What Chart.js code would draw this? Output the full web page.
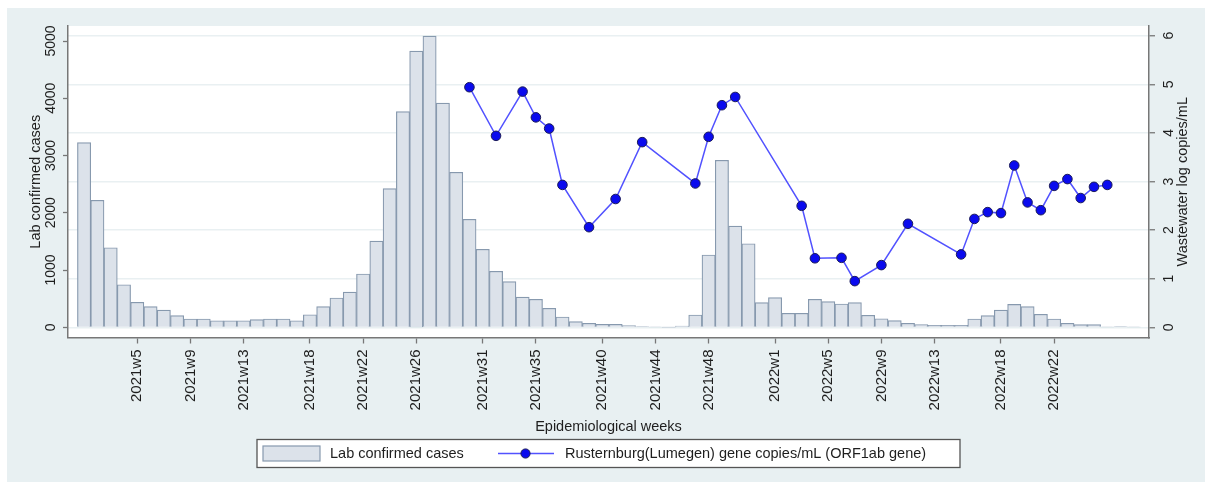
<!DOCTYPE html>
<html>
<head>
<meta charset="utf-8">
<script src="https://cdn.jsdelivr.net/npm/chart.js@4.4.1/dist/chart.umd.min.js"></script>
<style>
  html, body { margin: 0; padding: 0; background: #fff; }
  #wrap { position: relative; width: 1205px; height: 482px; }
</style>
</head>
<body>
<div id="wrap"><canvas id="myChart" width="1205" height="482"></canvas></div>
<script>
// semanas epidemiologicas (una barra por semana)
const weeks = [
  '2021w1','2021w2','2021w3','2021w4','2021w5','2021w6','2021w7','2021w8','2021w9','2021w10',
  '2021w11','2021w12','2021w13','2021w14','2021w15','2021w16','2021w17','2021w18','2021w19','2021w20',
  '2021w21','2021w22','2021w23','2021w24','2021w25','2021w26','2021w27','2021w28','2021w29','2021w30',
  '2021w31','2021w32','2021w33','2021w34','2021w35','2021w36','2021w37','2021w38','2021w39','2021w40',
  '2021w41','2021w42','2021w43','2021w44','2021w45','2021w46','2021w47','2021w48','2021w49','2021w50',
  '2021w51','2021w52','2022w1','2022w2','2022w3','2022w4','2022w5','2022w6','2022w7','2022w8',
  '2022w9','2022w10','2022w11','2022w12','2022w13','2022w14','2022w15','2022w16','2022w17','2022w18',
  '2022w19','2022w20','2022w21','2022w22','2022w23','2022w24','2022w25','2022w26','2022w27','2022w28'
];

const cases = [
  3224, 2218, 1390, 744, 437, 360, 302, 203, 145, 145,
  115, 115, 115, 133, 145, 145, 115, 220, 360, 512,
  616, 931, 1507, 2421, 3766, 4825, 5087, 3917, 2707, 1886,
  1362, 978, 797, 529, 489, 332, 180, 98, 70, 52,
  52, 30, 12, 5, 3, 23, 215, 1263, 2916, 1769,
  1460, 430, 517, 244, 244, 489, 448, 407, 430, 209,
  150, 116, 70, 48, 34, 34, 34, 145, 203, 302,
  401, 360, 227, 145, 70, 47, 47, 8, 12, 5
];

// muestras de agua residual
const wwWeeks = [
  '2021w30','2021w32','2021w34','2021w35','2021w36','2021w37','2021w39','2021w41','2021w43','2021w47',
  '2021w48','2021w49','2021w50','2022w3','2022w4','2022w6','2022w7','2022w9','2022w11','2022w15',
  '2022w16','2022w17','2022w18','2022w19','2022w20','2022w21','2022w22','2022w23','2022w24','2022w25',
  '2022w26'
];
const wwValues = [
  4.94, 3.94, 4.85, 4.32, 4.09, 2.93, 2.06, 2.64, 3.81, 2.96,
  3.92, 4.57, 4.74, 2.50, 1.42, 1.43, 0.95, 1.28, 2.13, 1.50,
  2.23, 2.37, 2.35, 3.33, 2.57, 2.41, 2.91, 3.05, 2.66, 2.89,
  2.93
];

const tickLabels = ['2021w5','2021w9','2021w13','2021w18','2021w22','2021w26','2021w31','2021w35','2021w40',
  '2021w44','2021w48','2022w1','2022w5','2022w9','2022w13','2022w18','2022w22'];
const casesTicks = [0, 1000, 2000, 3000, 4000, 5000];
const wwTicks = [0, 1, 2, 3, 4, 5, 6];

const FONT = "'Liberation Sans', Arial, sans-serif";
const TXT = '#1e1e1e';
const AXIS = '#777';

const fondo = {
  id: 'fondo',
  beforeDraw(chart) {
    const ctx = chart.ctx, a = chart.chartArea;
    ctx.save();
    ctx.fillStyle = '#fff';
    ctx.fillRect(0, 0, chart.width, chart.height);
    ctx.fillStyle = '#e8f0f2';
    ctx.fillRect(7, 8, chart.width - 7, chart.height - 8);
    ctx.fillStyle = '#fff';
    ctx.fillRect(a.left, a.top, a.right - a.left, a.bottom - a.top);
    ctx.restore();
  },
  afterDraw(chart) {
    const ctx = chart.ctx, a = chart.chartArea;
    const midY = (a.top + a.bottom) / 2, midX = (a.left + a.right) / 2;
    ctx.save();
    ctx.fillStyle = TXT;
    ctx.font = '14.5px ' + FONT;
    ctx.textAlign = 'center';
    ctx.textBaseline = 'middle';
    // titulos de ejes
    ctx.save(); ctx.translate(36, midY); ctx.rotate(-Math.PI / 2);
    ctx.fillText('Lab confirmed cases', 0, 0); ctx.restore();
    ctx.save(); ctx.translate(1183, midY); ctx.rotate(-Math.PI / 2);
    ctx.fillText('Wastewater log copies/mL', 0, 0); ctx.restore();
    ctx.fillText('Epidemiological weeks', midX, 427);

    // leyenda
    const ds = chart.data.datasets;
    const w = 703, h = 28, x0 = midX - w / 2, y0 = 439.5, cy = y0 + h / 2;
    ctx.fillStyle = '#fff';
    ctx.fillRect(x0, y0, w, h);
    ctx.strokeStyle = '#555';
    ctx.lineWidth = 1.3;
    ctx.strokeRect(x0, y0, w, h);
    ctx.fillStyle = ds[0].backgroundColor;
    ctx.fillRect(x0 + 6, cy - 7.5, 57, 15);
    ctx.strokeStyle = ds[0].borderColor;
    ctx.lineWidth = 1.2;
    ctx.strokeRect(x0 + 6, cy - 7.5, 57, 15);
    ctx.fillStyle = TXT;
    ctx.textAlign = 'left';
    ctx.fillText(ds[0].label, x0 + 73, cy);
    ctx.strokeStyle = ds[1].borderColor;
    ctx.lineWidth = 1.5;
    ctx.beginPath(); ctx.moveTo(x0 + 241, cy); ctx.lineTo(x0 + 297, cy); ctx.stroke();
    ctx.beginPath(); ctx.arc(x0 + 268.5, cy, 4.6, 0, Math.PI * 2);
    ctx.fillStyle = ds[1].pointBackgroundColor; ctx.fill();
    ctx.strokeStyle = ds[1].pointBorderColor; ctx.lineWidth = 1; ctx.stroke();
    ctx.fillStyle = TXT;
    ctx.fillText(ds[1].label, x0 + 308, cy);
    ctx.restore();
  }
};

const ctx = document.getElementById('myChart').getContext('2d');
const myChart = new Chart(ctx, {
  type: 'bar',
  data: {
    datasets: [
      {
        type: 'bar',
        label: 'Lab confirmed cases',
        data: cases.map((v, i) => ({ x: i, y: v })),
        backgroundColor: '#dce2ea',
        borderColor: '#8799ae',
        borderWidth: 1.2,
        barPercentage: 1,
        categoryPercentage: 1,
        yAxisID: 'y',
        order: 1
      },
      {
        type: 'line',
        label: 'Rusternburg(Lumegen) gene copies/mL (ORF1ab gene)',
        data: wwWeeks.map((wk, i) => ({ x: weeks.indexOf(wk), y: wwValues[i] })),
        borderColor: '#5252ff',
        borderWidth: 1.5,
        pointBackgroundColor: '#0a0aee',
        pointBorderColor: '#1c1c5a',
        pointBorderWidth: 1,
        pointRadius: 4.8,
        tension: 0,
        yAxisID: 'y1',
        order: 0
      }
    ]
  },
  options: {
    responsive: false,
    animation: false,
    devicePixelRatio: 1,
    layout: { padding: { left: 0, right: 0, top: 26, bottom: 0 } },
    plugins: { legend: { display: false }, tooltip: { enabled: false } },
    scales: {
      x: {
        type: 'linear',
        min: -1.21,
        max: 80.14,
        offset: false,
        afterBuildTicks: s => { s.ticks = tickLabels.map(l => ({ value: weeks.indexOf(l) })); },
        afterFit: s => { s.height = 144.5; },
        ticks: {
          autoSkip: false,
          minRotation: 90,
          maxRotation: 90,
          padding: 6,
          color: TXT,
          font: { family: FONT, size: 15 },
          callback: v => weeks[v]
        },
        grid: { drawOnChartArea: false, offset: false, tickLength: 6, tickColor: AXIS, tickWidth: 1.3 },
        border: { color: AXIS, width: 1.5 }
      },
      y: {
        position: 'left',
        min: -178,
        max: 5262,
        afterBuildTicks: s => { s.ticks = casesTicks.map(v => ({ value: v })); },
        afterFit: s => { s.width = 68; },
        ticks: {
          minRotation: 90,
          maxRotation: 90,
          crossAlign: 'center',
          padding: -3.6,
          color: TXT,
          font: { family: FONT, size: 14 },
          callback: v => String(v)
        },
        grid: { drawOnChartArea: false, tickLength: 5, tickColor: AXIS, tickWidth: 1.3 },
        border: { color: AXIS, width: 1.5 }
      },
      y1: {
        position: 'right',
        min: -0.21,
        max: 6.2,
        afterBuildTicks: s => { s.ticks = wwTicks.map(v => ({ value: v })); },
        afterFit: s => { s.width = 56; },
        ticks: {
          minRotation: 90,
          maxRotation: 90,
          crossAlign: 'center',
          padding: 9.8,
          color: TXT,
          font: { family: FONT, size: 14 },
          callback: v => String(v)
        },
        grid: { drawOnChartArea: true, color: '#e9f0f2', lineWidth: 1.5, tickLength: 6, tickColor: AXIS, tickWidth: 1.3 },
        border: { color: AXIS, width: 1.5 }
      }
    }
  },
  plugins: [fondo]
});
</script>
</body>
</html>
